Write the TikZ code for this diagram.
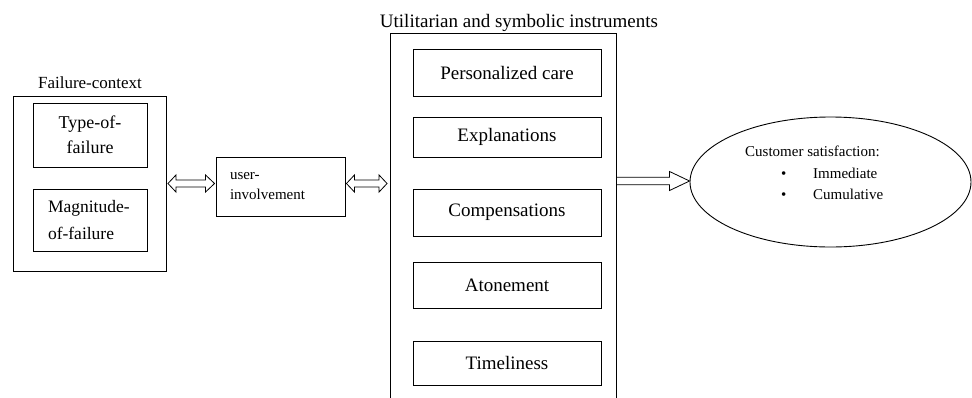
\documentclass[tikz,border=0pt]{standalone}
\usepackage{fontspec}
\setmainfont{Liberation Serif}
\usetikzlibrary{calc,shapes.geometric}
\begin{document}
\begin{tikzpicture}[x=1pt,y=-1pt,
  box/.style={draw,line width=0.9pt,inner sep=0pt,rectangle},
  blockarrow/.style={draw,line width=0.8pt,line join=miter,fill=white}]
\clip (0,0) rectangle (972,397);
% Failure context
\node[box,minimum width=153pt,minimum height=175pt] (fc) at (89.5,183.5) {};
\node[font=\fontsize{17}{20}\selectfont] (fclab) at (90,83) {Failure-context};
\node[box,minimum width=114pt,minimum height=64pt,align=center,font=\fontsize{18}{25}\selectfont] (tof) at (90,135) {Type-of-\\failure};
\node[box,minimum width=114pt,minimum height=62pt,text width=84pt,inner xsep=15pt,align=left,font=\fontsize{17.5}{27}\selectfont] (mof) at (90,220) {Magnitude-\\of-failure};
% user involvement
\node[box,minimum width=129pt,minimum height=59pt,text width=101pt,inner xsep=14pt,align=left,font=\fontsize{15}{20}\selectfont] (ui) at (280.5,186.5) {user-\\involvement};
% instruments
\node[box,minimum width=226pt,minimum height=387pt] (big) at (503,226.5) {};
\node[font=\fontsize{19}{22}\selectfont] (biglab) at (519,23) {Utilitarian and symbolic instruments};
\begin{scope}[every node/.style={box,minimum width=188pt,font=\fontsize{19}{22}\selectfont}]
\node[minimum height=47pt] (pc) at (507,72.5) {Personalized care};
\node[minimum height=40pt] (ex) at (507,137) {Explanations};
\node[minimum height=47pt] (co) at (507,212.5) {Compensations};
\node[minimum height=46pt] (at) at (507,285) {Atonement};
\node[minimum height=44pt] (ti) at (507,363) {Timeliness};
\end{scope}
% customer satisfaction
\node[draw,line width=0.9pt,ellipse,minimum width=281pt,minimum height=130pt,inner sep=0pt] (cs) at (830.5,182) {};
\node[anchor=north west,inner sep=0pt,align=left,font=\fontsize{15}{21.5}\selectfont] (cstext) at (745,146) {Customer satisfaction:\\\makebox[68pt][l]{\hspace{36pt}\textbullet}Immediate\\\makebox[68pt][l]{\hspace{36pt}\textbullet}Cumulative};
% arrows (block arrows drawn between node anchors)
\path let \p1=($(fc.east)+(1.5,0)$), \p2=($(fc.east -| ui.west)+(-1,0)$) in
  [blockarrow] (\p1) -- (\x1+8,\y1+8.5) -- (\x1+8,\y1+3.5) -- (\x2-9,\y1+3.5) -- (\x2-9,\y1+8.5)
  -- (\p2) -- (\x2-9,\y1-8.5) -- (\x2-9,\y1-3.5) -- (\x1+8,\y1-3.5) -- (\x1+8,\y1-8.5) -- cycle;
\path let \p1=($(fc.east -| ui.east)+(1,0)$), \p2=($(fc.east -| big.west)+(-2.5,0)$) in
  [blockarrow] (\p1) -- (\x1+8,\y1+8.5) -- (\x1+8,\y1+3.5) -- (\x2-8,\y1+3.5) -- (\x2-8,\y1+8.5)
  -- (\p2) -- (\x2-8,\y1-8.5) -- (\x2-8,\y1-3.5) -- (\x1+8,\y1-3.5) -- (\x1+8,\y1-8.5) -- cycle;
\path let \p1=($(cs.west -| big.east)+(0,-1)$), \p2=($(cs.west)+(0,-1)$) in
  [blockarrow,fill=none] (\x1,\y1+3.8) -- (\x2-20,\y1+3.8) -- (\x2-20,\y1+9.5) -- (\p2)
  -- (\x2-20,\y1-9.5) -- (\x2-20,\y1-3.8) -- (\x1,\y1-3.8);
\end{tikzpicture}
\end{document}
